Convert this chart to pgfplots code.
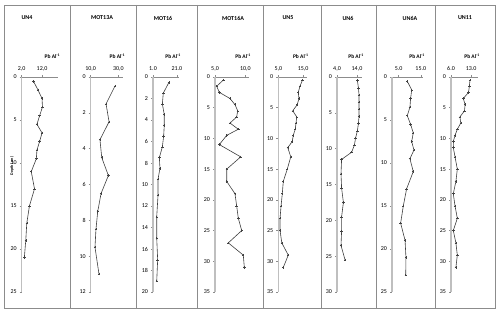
\documentclass[border=0pt]{standalone}
\usepackage{fontspec}
\setmainfont{Carlito}
\usepackage{pgfplots}
\pgfplotsset{compat=1.18}
\definecolor{frame}{HTML}{8C8C8C}
\definecolor{yax}{HTML}{BFBFBF}
\definecolor{xax}{HTML}{8C8C8C}
\definecolor{ln}{HTML}{404040}
\pgfplotsset{
 core/.style={
  scale only axis, height=215pt, ymin=0, y dir=reverse,
  axis x line*=top, axis y line*=left,
  x axis line style={draw=xax, line width=0.6pt},
  y axis line style={draw=yax, line width=1.5pt},
  tick style={draw=xax, line width=0.5pt},
  major tick length=2pt, tick align=outside,
  tick label style={font=\fontsize{6}{7}\selectfont, text=black},
  yticklabel style={xshift=0.5pt},
  xticklabel style={yshift=0.5pt},
  /pgf/number format/assume math mode=true,
  clip=false,
 },
 ser/.style={ln, line width=0.6pt, mark=+, mark size=1.2pt, mark options={solid, line width=0.5pt}},
}
\newcommand{\pbal}{\node[anchor=south east, font=\bfseries\fontsize{5.5}{6}\selectfont, inner sep=0pt] at ([xshift=2pt, yshift=18pt]rel axis cs:1,1) {Pb Al\textsuperscript{-1}};}
\begin{document}
\begin{tikzpicture}
\fill[white] (0,0) rectangle (500pt,314pt);
% frame
\draw[frame, line width=0.7pt] (4pt,309pt) rectangle (495pt,6pt);
\foreach \xx in {70,136,197,263,321,376,435}{\draw[frame, line width=0.7pt] (\xx pt,309pt) -- (\xx pt,6pt);}
% titles
\foreach \xx/\tt in {27/UN4,102/MOT13A,163/MOT16,233/MOT16A,288/UN5,348/UN6,410/UN6A,465/UN11}{
 \node[font=\bfseries\fontsize{6}{7}\selectfont, inner sep=0pt] at (\xx pt, 296pt) {\tt};}
\node[rotate=90, font=\bfseries\fontsize{4}{5}\selectfont, inner sep=0pt] at (12pt,148pt) {Depth (cm)};

% UN4
\begin{axis}[core, at={(21.7pt,237pt)}, anchor=north west, width=36.6pt,
  xmin=2, xmax=20, xtick={2,12}, xticklabels={{2,0},{12,0}}, ymax=25, ytick={0,5,...,25}]
\addplot[ser] coordinates {(7.8,0.5)(10.0,1.5)(12.0,2.5)(12.2,3.5)(10.8,4.5)(9.5,5.5)(12.0,6.5)(10.8,7.5)(9.5,8.5)(9.2,9.5)(6.7,11)(8.3,13)(5.8,15)(4.5,17)(4.0,19)(3.3,21)};
\pbal
\end{axis}

% MOT13A
\begin{axis}[core, at={(90.7pt,237pt)}, anchor=north west, width=32.6pt,
  xmin=10, xmax=33.6, xtick={10,30}, xticklabels={{10,0},{30,0}}, ymax=12, ytick={0,2,...,12}]
\addplot[ser] coordinates {(27.6,0.5)(21.1,1.5)(23.3,2.5)(16.7,3.5)(18.0,4.5)(22.8,5.5)(17.5,6.5)(15.1,7.5)(13.8,8.5)(13.1,9.5)(16.0,11)};
\pbal
\end{axis}

% MOT16
\begin{axis}[core, at={(153pt,237pt)}, anchor=north west, width=26pt,
  xmin=1, xmax=22.7, xtick={1,21}, xticklabels={{1.0},{21.0}}, ymax=20, ytick={0,2,...,20}]
\addplot[ser] coordinates {(14.3,0.5)(9.6,1.5)(8.8,2.5)(10.4,3.5)(10.4,4.5)(9.9,5.5)(8.8,6.5)(6.3,7.5)(6.8,8.5)(5.2,9.5)(5.2,11)(4.1,13)(4.1,15)(4.9,17)(4.1,19)};
\pbal
\end{axis}

% MOT16A
\begin{axis}[core, at={(215pt,237pt)}, anchor=north west, width=34pt,
  xmin=5, xmax=10.6, xtick={5,10}, xticklabels={{5,0},{10,0}}, ymax=35, ytick={0,5,...,35}]
\addplot[ser] coordinates {(6.37,0.5)(5.28,1.5)(5.71,2.5)(7.47,3.5)(8.29,4.5)(8.74,5.5)(8.57,6.5)(7.47,7.5)(8.84,8.5)(6.93,9.5)(5.71,11)(9.23,13)(6.93,15)(6.93,17)(8.29,19)(8.57,21)(8.84,23)(9.40,25)(7.19,27)(9.66,29)(9.83,31)};
\pbal
\end{axis}

% UN5
\begin{axis}[core, at={(278.3pt,237pt)}, anchor=north west, width=28.4pt,
  xmin=5, xmax=16.4, xtick={5,15}, xticklabels={{5,0},{15,0}}, ymax=35, ytick={0,5,...,35}]
\addplot[ser] coordinates {(14.7,0.5)(13.7,1.5)(13.0,2.5)(13.3,3.5)(12.6,4.5)(10.8,5.5)(12.4,6.5)(12.1,7.5)(11.8,8.5)(11.0,9.5)(10.6,10.5)(8.8,11.5)(10.0,13)(8.6,15)(7.0,17)(6.6,19)(6.1,21)(5.7,23)(5.7,25)(6.4,27)(9.0,29)(7.0,31)};
\pbal
\end{axis}

% UN6
\begin{axis}[core, at={(337pt,237pt)}, anchor=north west, width=25pt,
  xmin=4, xmax=16.5, xtick={4,14}, xticklabels={{4,0},{14,0}}, ymax=30, ytick={0,5,...,30}]
\addplot[ser] coordinates {(14.2,0.5)(14.7,1.5)(15.0,2.5)(15.0,3.5)(15.0,4.5)(15.0,5.5)(14.7,6.5)(14.2,7.5)(13.3,8.5)(12.7,9.5)(11.3,10.5)(6.3,11.5)(6.0,13.5)(6.3,15.5)(7.2,17.5)(6.3,19.5)(6.3,21.5)(6.0,23.5)(8.0,25.5)};
\pbal
\end{axis}

% UN6A
\begin{axis}[core, at={(392pt,237pt)}, anchor=north west, width=31pt,
  xmin=2, xmax=16, xtick={5,15}, xticklabels={{5.0},{15.0}}, ymax=25, ytick={0,5,...,25}]
\addplot[ser] coordinates {(8.9,0.5)(10.9,1.5)(10.4,2.5)(10.1,3.5)(8.9,4.5)(10.4,5.5)(11.6,6.5)(10.9,7.5)(11.9,8.5)(10.1,9.5)(11.6,11)(8.6,13)(7.1,15)(5.9,17)(7.9,19)(8.3,21)(8.2,23)};
\pbal
\end{axis}

% UN11
\begin{axis}[core, at={(451pt,237pt)}, anchor=north west, width=27pt,
  xmin=6, xmax=15.4, xtick={6,13}, xticklabels={{6.0},{13.0}}, ymax=35, ytick={0,5,...,35}]
\addplot[ser] coordinates {(12.6,0.5)(12.4,1.5)(12.1,2.5)(10.3,3.5)(10.9,4.5)(10.7,5.5)(9.1,6.5)(9.4,7.5)(8.2,8.5)(7.4,9.5)(6.8,10.5)(6.8,11.5)(7.4,13)(8.2,15)(7.7,17)(6.8,19)(7.4,21)(8.2,23)(6.8,25)(7.7,27)(8.2,29)(7.7,31)};
\pbal
\end{axis}
\end{tikzpicture}
\end{document}
